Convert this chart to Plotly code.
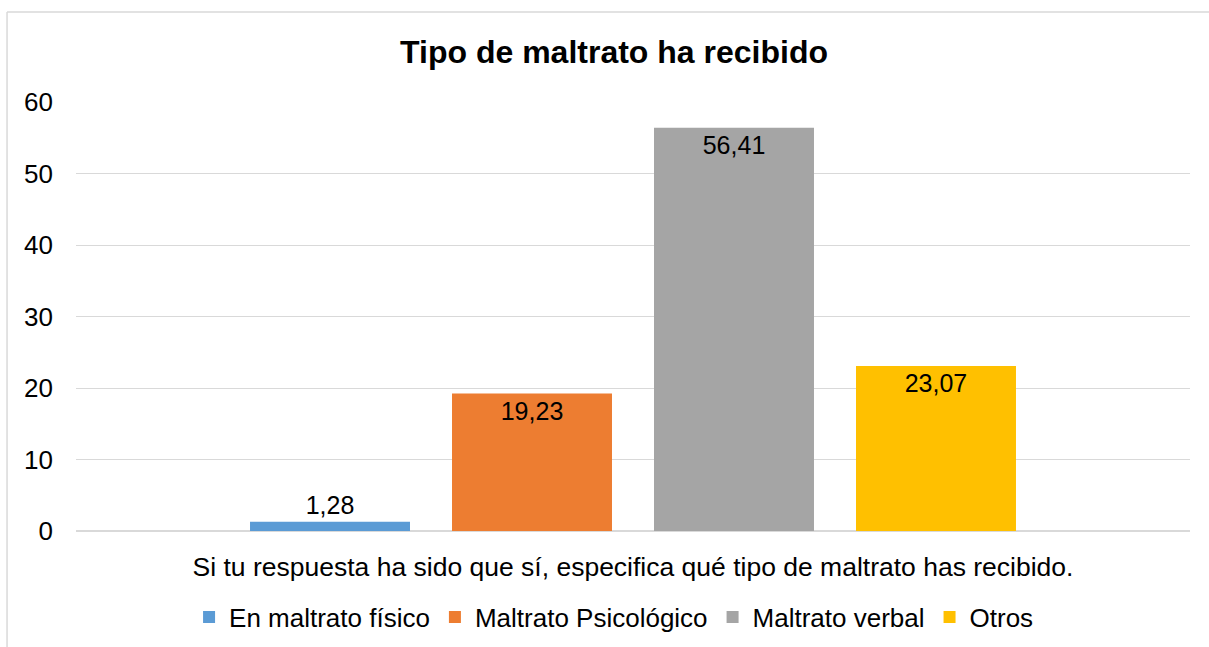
import plotly.graph_objects as go

# Chart data
category = ["Si tu respuesta ha sido que sí, especifica qué tipo de maltrato has recibido."]
series_names = ["En maltrato físico", "Maltrato Psicológico", "Maltrato verbal", "Otros"]
series_values = [1.28, 19.23, 56.41, 23.07]
series_colors = ["#5B9BD5", "#ED7D31", "#A5A5A5", "#FFC000"]
y_ticks = [0, 10, 20, 30, 40, 50, 60]

FONT = "Liberation Sans, Arial, sans-serif"
BORDER = "#D9D9D9"

fig = go.Figure()

for name, value, color in zip(series_names, series_values, series_colors):
    fig.add_trace(go.Bar(
        x=category,
        y=[value],
        name=name,
        marker=dict(color=color, line=dict(width=0)),
        texttemplate="%{y:.2f}",
        textposition="auto",
        insidetextanchor="end",
        textfont=dict(family=FONT, size=25, color="black"),
        insidetextfont=dict(family=FONT, size=25, color="black"),
        outsidetextfont=dict(family=FONT, size=25, color="black"),
        cliponaxis=False,
        hoverinfo="skip",
    ))

fig.update_layout(
    width=1209,
    height=647,
    barmode="group",
    bargap=0.2747,
    bargroupgap=0.208,
    separators=", ",
    paper_bgcolor="white",
    plot_bgcolor="white",
    font=dict(family=FONT, size=26, color="black"),
    margin=dict(l=76, r=19, t=102, b=116, autoexpand=False),
    title=dict(
        text="<b>Tipo de maltrato ha recibido</b>",
        font=dict(family=FONT, size=32, color="black"),
        x=0.5079, xref="container", xanchor="center",
        y=0.9196, yref="container", yanchor="middle",
    ),
    showlegend=True,
    legend=dict(
        orientation="h",
        x=0.483, xanchor="center",
        y=-0.2005, yanchor="middle",
        font=dict(family=FONT, size=26, color="black"),
        itemwidth=30,
        traceorder="normal",
    ),
    # chart frame: only the left and top edges fall inside the picture
    shapes=[
        dict(type="line", xref="paper", yref="paper",
             x0=-0.0619, x1=-0.0619, y0=-0.35, y1=1.2098,
             line=dict(color=BORDER, width=1.5), layer="below"),
        dict(type="line", xref="paper", yref="paper",
             x0=-0.0619, x1=1.1, y0=1.2098, y1=1.2098,
             line=dict(color=BORDER, width=1.5), layer="below"),
    ],
)

fig.update_xaxes(
    type="category",
    showgrid=False,
    showline=False,
    zeroline=False,
    ticks="outside",
    ticklen=12,
    tickcolor="rgba(0,0,0,0)",
    tickfont=dict(family=FONT, size=26.5, color="black"),
    automargin=False,
)

fig.update_yaxes(
    range=[0, 60],
    tickvals=y_ticks,
    showgrid=True,
    gridcolor=BORDER,
    gridwidth=1,
    zeroline=True,
    zerolinecolor=BORDER,
    zerolinewidth=1.5,
    showline=False,
    ticks="",
    ticklabelstandoff=22,
    tickfont=dict(family=FONT, size=26, color="black"),
    automargin=False,
)

# drop the default page margin so the figure sits at the window's top-left corner
fig.write_html(
    "out.html",
    config={"displayModeBar": False},
    post_script="document.body.style.margin='0';document.body.style.overflow='hidden';",
)
